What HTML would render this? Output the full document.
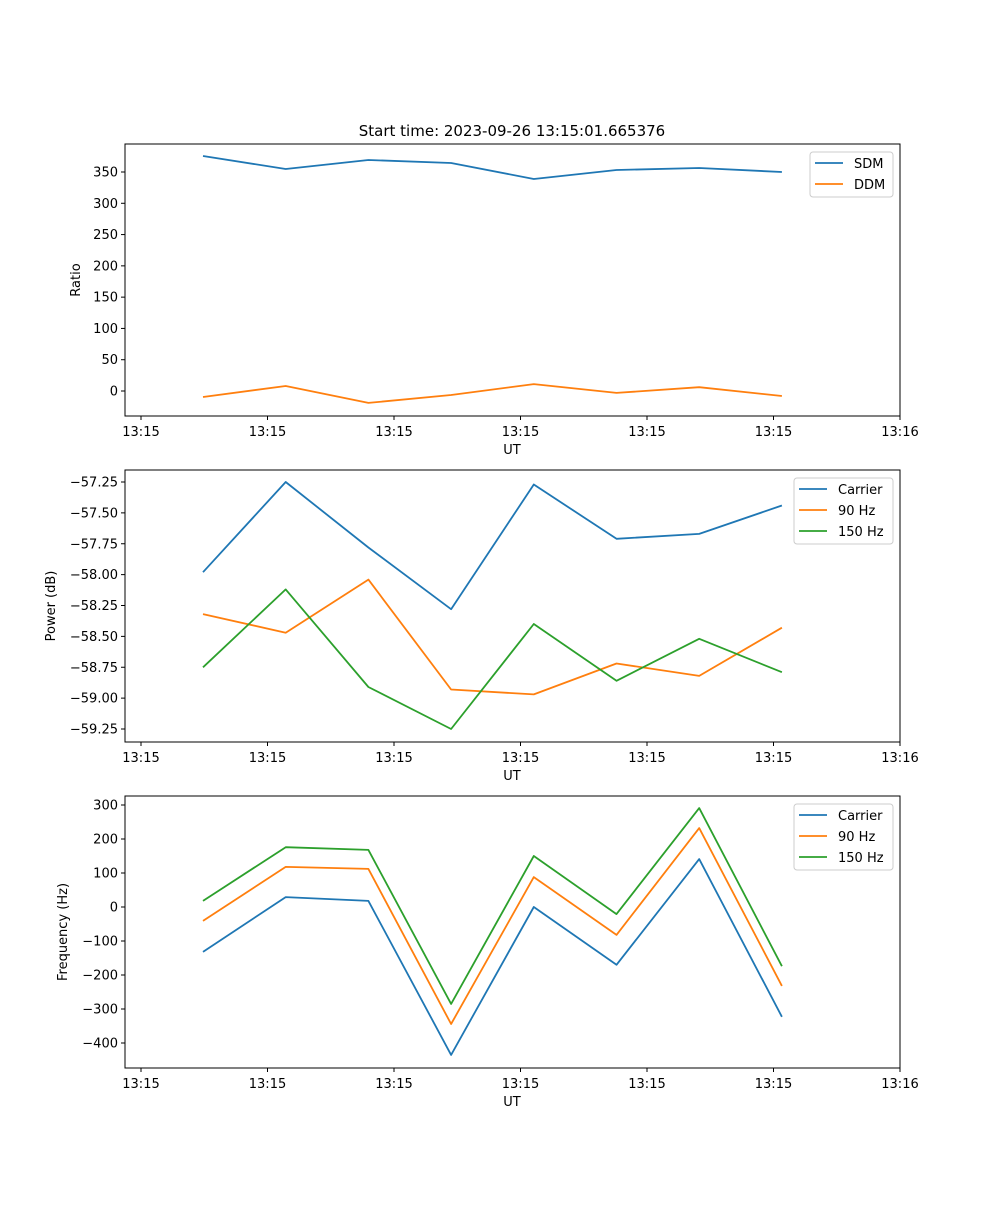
<!DOCTYPE html>
<html><head><meta charset="utf-8"><style>
body{margin:0;background:#fff;font-family:"Liberation Sans","DejaVu Sans",sans-serif}
svg text{font-family:"DejaVu Sans","Liberation Sans",sans-serif}
</style></head><body>
<svg id="fig" width="1000" height="1200" xmlns="http://www.w3.org/2000/svg">
<rect width="1000" height="1200" fill="#fff"/>
<text x="512" y="136" font-size="15" text-anchor="middle">Start time: 2023-09-26 13:15:01.665376</text>
</svg>
<script>
const xTickLabels=["13:15","13:15","13:15","13:15","13:15","13:15","13:16"];
const ratioTicks=[0,50,100,150,200,250,300,350];
const sdm=[375.6,354.8,369.2,364.4,338.8,353.2,356.4,350];
const ddm=[-9.6,8,-19,-6.4,11,-3,6,-8];
const powerTicks=[-59.25,-59.0,-58.75,-58.5,-58.25,-58.0,-57.75,-57.5,-57.25];
const powCarrier=[-57.98,-57.25,-57.78,-58.28,-57.27,-57.71,-57.67,-57.44];
const pow90=[-58.32,-58.47,-58.04,-58.93,-58.97,-58.72,-58.82,-58.43];
const pow150=[-58.75,-58.12,-58.91,-59.25,-58.40,-58.86,-58.52,-58.79];
const freqTicks=[-400,-300,-200,-100,0,100,200,300];
const frqCarrier=[-132,29,18,-435,0,-170,141,-323];
const frq90=[-41,118,112,-344,88,-82,232,-232];
const frq150=[18,176,168,-285,150,-21,291,-174];
const C1="#1f77b4",C2="#ff7f0e",C3="#2ca02c";
const svg=document.getElementById('fig');
const NS="http://www.w3.org/2000/svg";
function mk(tag,attrs,parent){const e=document.createElementNS(NS,tag);for(const k in attrs)e.setAttribute(k,attrs[k]);(parent||svg).appendChild(e);return e;}
const L=125,R=900;
function xPix(i){return 203+i*82.7;}
function xTickPix(k){return 141+k*126.5;}
function panel(top,bot,yTicks,tickFmt,v0,p0,v1,p1,ylabel,series,names,colors,legend,pname){
  const y=v=>p0+(v-v0)*(p1-p0)/(v1-v0);
  const g=mk('g',{});
  
  
  yTicks.forEach(t=>{const yy=y(t);
    mk('line',{x1:L-4,x2:L,y1:yy,y2:yy,stroke:'#000'},g);
    const tx=mk('text',{x:L-7,y:yy+4.5,'font-size':13,'text-anchor':'end'},g);tx.textContent=tickFmt(t);
    
    });
  xTickLabels.forEach((s,k)=>{const xx=xTickPix(k);
    mk('line',{x1:xx,x2:xx,y1:bot,y2:bot+4,stroke:'#000'},g);
    const tx=mk('text',{x:xx,y:bot+20,'font-size':13,'text-anchor':'middle'},g);tx.textContent=s;
    
    });
  const xl=mk('text',{x:512,y:bot+38,'font-size':13,'text-anchor':'middle'},g);xl.textContent='UT';
  
  
  const cy=(top+bot)/2;
  const yl=mk('text',{x:0,y:0,'font-size':13,'text-anchor':'middle',transform:`translate(${legend.yl},${cy}) rotate(-90)`},g);yl.textContent=ylabel;
  
  
  series.forEach((s,si)=>{
    const pts=s.map((v,i)=>xPix(i).toFixed(1)+','+y(v).toFixed(1)).join(' ');
    const pl=mk('polyline',{points:pts,fill:'none',stroke:colors[si],'stroke-width':1.8,'stroke-linejoin':'round'},g);
    
    
  });
  mk('rect',{x:L,y:top,width:R-L,height:bot-top,fill:'none',stroke:'#000','stroke-width':1},g);
  const lg=mk('g',{},g);
  
  
  const h=3+names.length*21;
  mk('rect',{x:legend.x,y:top+8,width:R-7-legend.x,height:h,fill:'#fff',stroke:'#ccc',rx:3},lg);
  names.forEach((n,i)=>{const yy=top+19+i*21;
    mk('line',{x1:legend.x+5,x2:legend.x+33,y1:yy,y2:yy,stroke:colors[i],'stroke-width':1.8},lg);
    const t=mk('text',{x:legend.x+44,y:yy+5,'font-size':13},lg);t.textContent=n;
    
    });
}
panel(144,416,ratioTicks,t=>String(t),0,391,350,172,'Ratio',[sdm,ddm],['SDM','DDM'],[C1,C2],{x:810,yl:80},'ratio-panel');
panel(470,742,powerTicks,t=>'\u2212'+Math.abs(t).toFixed(2),-57.25,482,-59.25,729,'Power (dB)',[powCarrier,pow90,pow150],['Carrier','90 Hz','150 Hz'],[C1,C2,C3],{x:794,yl:55},'power-panel');
panel(796,1068,freqTicks,t=>t<0?'\u2212'+Math.abs(t):String(t),300,805,-400,1043,'Frequency (Hz)',[frqCarrier,frq90,frq150],['Carrier','90 Hz','150 Hz'],[C1,C2,C3],{x:794,yl:67},'frequency-panel');
</script>
</body></html>
